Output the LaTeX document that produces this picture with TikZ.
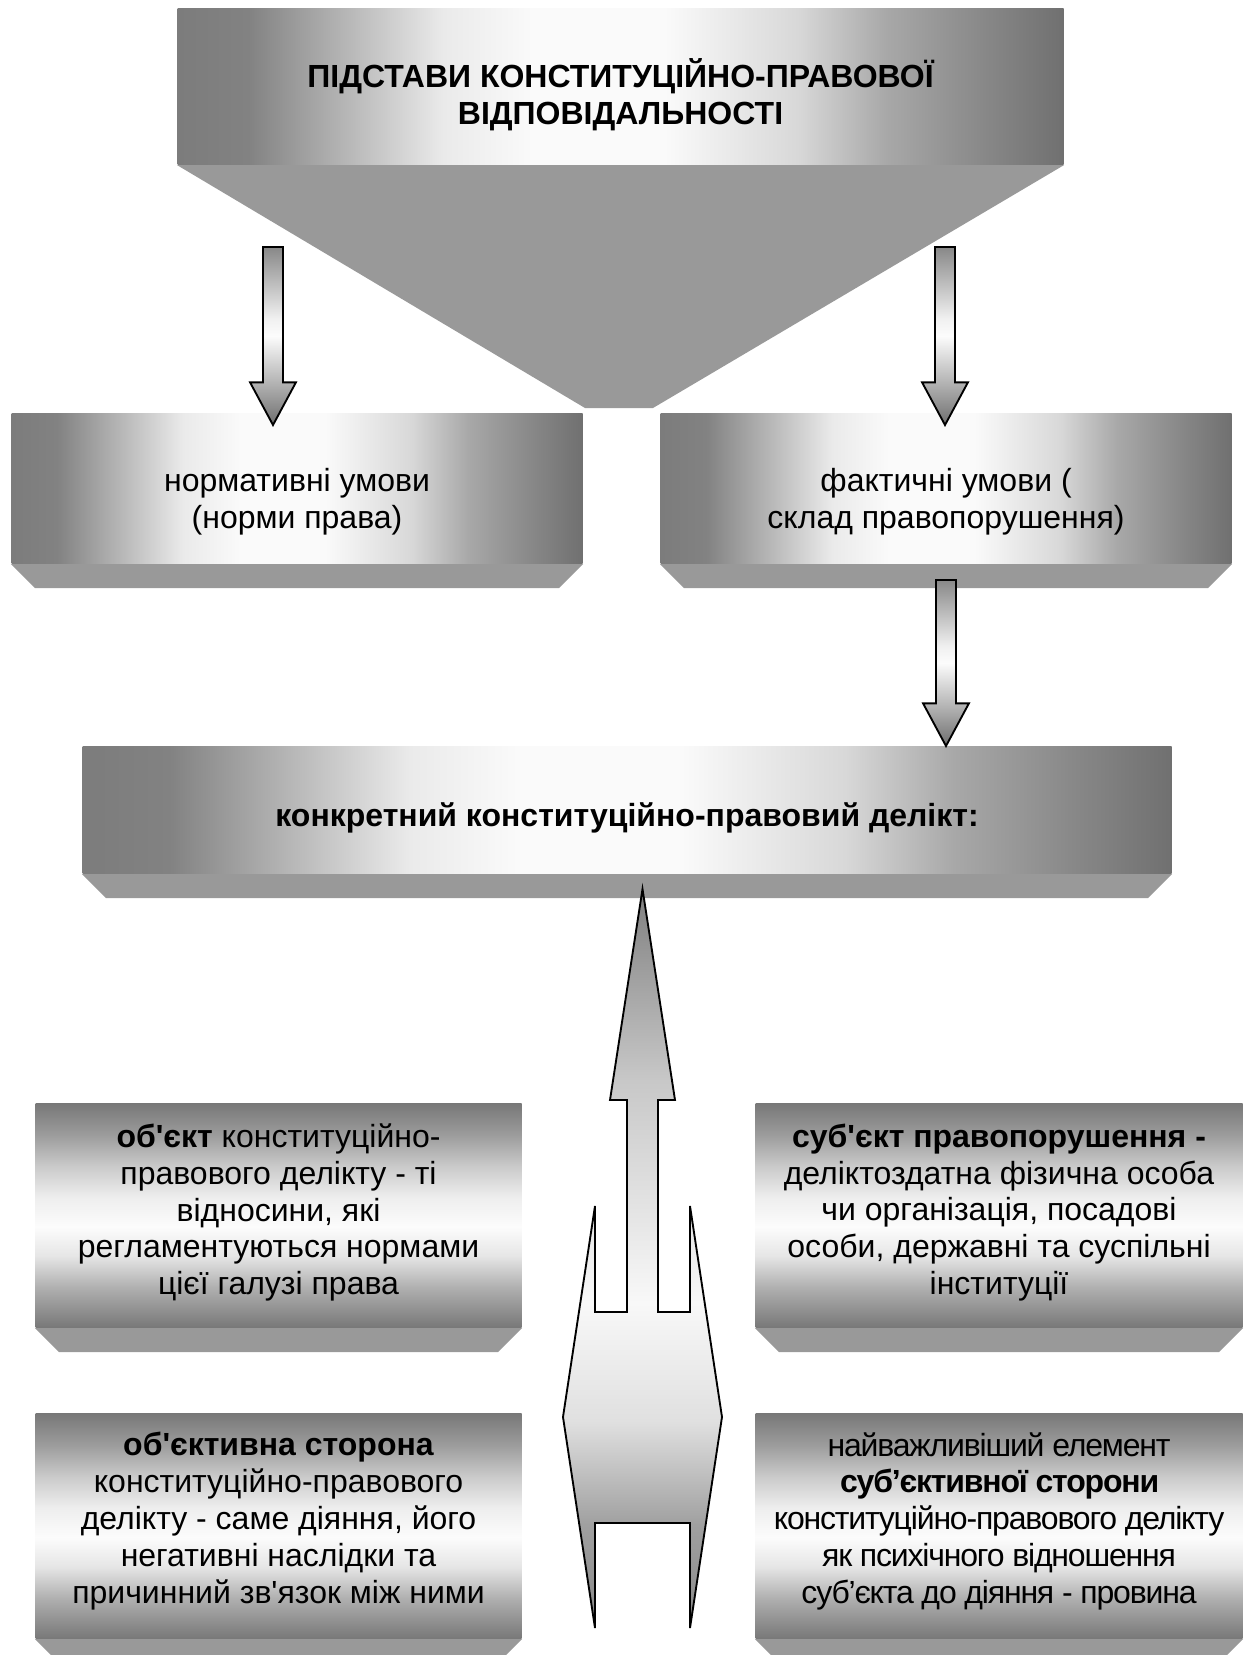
\documentclass[tikz,border=0pt]{standalone}
\usepackage{fontspec}
\setmainfont{Liberation Sans}[Ligatures=TeXOff]
\newfontfamily\tightfont{Liberation Sans}[Ligatures=TeXOff, LetterSpace=-3.7]
\usetikzlibrary{calc}

% Greys of the shadings
\definecolor{bevelgray}{HTML}{999999}
\definecolor{hA}{HTML}{7C7C7C}
\definecolor{hB}{HTML}{828282}
\definecolor{hC}{HTML}{A8A8A8}
\definecolor{hD}{HTML}{EAEAEA}
\definecolor{hE}{HTML}{FAFAFA}
\definecolor{hF}{HTML}{D8D8D8}
\definecolor{hG}{HTML}{888888}
\definecolor{hH}{HTML}{707070}
\definecolor{vA}{HTML}{787878}
\definecolor{vB}{HTML}{B0B0B0}
\definecolor{vC}{HTML}{E6E6E6}
\definecolor{vD}{HTML}{FCFCFC}
\definecolor{vE}{HTML}{EEEEEE}
\definecolor{vF}{HTML}{CACACA}
\definecolor{vG}{HTML}{9C9C9C}
\definecolor{aA}{HTML}{6E6E6E}
\definecolor{aB}{HTML}{B4B4B4}
\definecolor{aC}{HTML}{FCFCFC}
\definecolor{aD}{HTML}{F0F0F0}
\definecolor{aE}{HTML}{888888}
\definecolor{bA}{HTML}{888888}
\definecolor{bB}{HTML}{A0A0A0}
\definecolor{bC}{HTML}{E0E0E0}
\definecolor{bD}{HTML}{F8F8F8}
\definecolor{bE}{HTML}{C8C8C8}
\definecolor{bF}{HTML}{7F7F7F}

% dark - white - dark, left to right
\pgfdeclarehorizontalshading{hbar}{100bp}{color(0bp)=(hA); color(25bp)=(hA); color(29bp)=(hB);
  color(33bp)=(hC); color(40bp)=(hD); color(45bp)=(hE); color(52.5bp)=(hE); color(60bp)=(hF);
  color(65bp)=(hC); color(70.5bp)=(hG); color(75bp)=(hH); color(100bp)=(hH)}
% dark - white - dark, bottom to top
\pgfdeclareverticalshading{vbar}{100bp}{color(0bp)=(vA); color(25bp)=(vA); color(34bp)=(vB);
  color(41bp)=(vC); color(47.5bp)=(vD); color(54bp)=(vE); color(61bp)=(vF); color(68bp)=(vG);
  color(75bp)=(vA); color(100bp)=(vA)}
\pgfdeclareverticalshading{arrowbar}{100bp}{color(0bp)=(aA); color(25bp)=(aA); color(37bp)=(aB);
  color(50bp)=(aC); color(55bp)=(aD); color(75bp)=(aE); color(100bp)=(aE)}
\pgfdeclareverticalshading{bigbar}{100bp}{color(0bp)=(bA); color(25bp)=(bA); color(32bp)=(bB);
  color(39bp)=(bC); color(47bp)=(bD); color(62bp)=(bE); color(75bp)=(bF); color(100bp)=(bF)}

\begin{document}
\begin{tikzpicture}[x=0.375pt, y=-0.375pt]

    % Set the canvas size
    \useasboundingbox (0,0) rectangle (1248,1655);

    % Define styles
    \tikzset{
        dims/.style 2 args={minimum width=#1*0.375pt, minimum height=#2*0.375pt},
        hbox/.style={shade, shading=hbar, anchor=north west, inner sep=0pt},
        vbox/.style={shade, shading=vbar, anchor=north west, inner sep=0pt},
        boxtext/.style={inner sep=0pt, align=center, font=\fontsize{12}{13.8}\selectfont},
        tighttext/.style={boxtext, font=\tightfont\fontsize{12}{13.8}\selectfont},
        title/.style={boxtext, font=\fontsize{12}{13.8}\selectfont\bfseries},
        bevel/.style={fill=bevelgray},
        smallarrow/.style={shade, shading=arrowbar, draw=black, line width=0.7pt},
        bigarrow/.style={shade, shading=bigbar, draw=black, line width=0.7pt},
        downarrow/.style={to path={let \p1=(\tikztostart), \p2=(\tikztotarget) in
            (\x1-3.75pt,\y1) -- (\x1+3.75pt,\y1) -- (\x1+3.75pt,\y2+16pt) -- (\x1+8.6pt,\y2+16pt)
            -- (\x1,\y2) -- (\x1-8.6pt,\y2+16pt) -- (\x1-3.75pt,\y2+16pt) -- cycle}},
    }

    % Heading with its funnel
    \node[hbox, dims={886}{156}] (basis) at (177,8) {};
    \fill[bevel] (basis.south west) -- (basis.south east) -- (653,408) -- (585,408) -- cycle;
    \node[title] (basistext) at ([shift={(0,8)}]basis.center)
        {ПІДСТАВИ КОНСТИТУЦІЙНО-ПРАВОВОЇ\\ВІДПОВІДАЛЬНОСТІ};

    % Two kinds of conditions
    \node[hbox, dims={571}{150}] (norm) at (11,413) {};
    \node[hbox, dims={571}{150}] (fact) at (660,413) {};

    % The delict
    \node[hbox, dims={1089}{127}] (delict) at (82,746) {};

    % Elements of the delict
    \node[vbox, dims={486}{224}] (object) at (35,1103) {};
    \node[vbox, dims={487}{224}] (subject) at (755,1103) {};
    \node[vbox, dims={486}{225}] (objside) at (35,1413) {};
    \node[vbox, dims={487}{225}] (subjside) at (755,1413) {};

    % Bevels under the boxes
    \foreach \n in {norm,fact,delict,object,subject} {
        \fill[bevel] (\n.south west) -- (\n.south east) -- ++(-24,24) -- ([shift={(24,24)}]\n.south west) -- cycle;
    }
    \foreach \n in {objside,subjside} {
        \fill[bevel] (\n.south west) -- (\n.south east) -- ++(-17,17) -- ([shift={(17,17)}]\n.south west) -- cycle;
    }

    % Texts of the boxes
    \node[boxtext] (normtext) at ([shift={(0,13)}]norm.center) {нормативні умови\\(норми права)};
    \node[boxtext] (facttext) at ([shift={(0,13)}]fact.center) {фактичні умови (\\склад правопорушення)};
    \node[title] (delicttext) at ([shift={(0,8)}]delict.center) {конкретний конституційно-правовий делікт:};
    \node[boxtext] (objecttext) at ([shift={(0,-3)}]object.center)
        {\textbf{об'єкт} конституційно-\\правового делікту - ті\\відносини, які\\регламентуються нормами\\цієї галузі права};
    \node[boxtext] (subjecttext) at ([shift={(0,-3)}]subject.center)
        {\textbf{суб'єкт правопорушення -}\\деліктоздатна фізична особа\\чи організація, посадові\\особи, державні та суспільні\\інституції};
    \node[boxtext] (objsidetext) at ([shift={(0,-5)}]objside.center)
        {\textbf{об'єктивна сторона}\\конституційно-правового\\делікту - саме діяння, його\\негативні наслідки та\\причинний зв'язок між ними};
    \node[tighttext] (subjsidetext) at ([shift={(0,-5)}]subjside.center)
        {найважливіший елемент\\\textbf{суб’єктивної сторони}\\конституційно-правового делікту\\як психічного відношення\\суб’єкта до діяння - провина};

    % Small block arrows
    \coordinate (a1top) at (273,247);
    \coordinate (a1tip) at (273,425);
    \coordinate (a2top) at (945,247);
    \coordinate (a2tip) at (945,425);
    \coordinate (a3top) at (946,580);
    \draw[smallarrow] (a1top) to[downarrow] (a1tip);
    \draw[smallarrow] (a2top) to[downarrow] (a2tip);
    \draw[smallarrow] (a3top) to[downarrow] (a3top |- delict.north);

    % Big forked arrow up to the delict
    \draw[bigarrow, line join=miter] (642.5,889) -- (675,1100) -- (658,1100) -- (658,1312) -- (690,1312)
        -- (690,1206) -- (722,1417) -- (690,1628) -- (690,1523) -- (595,1523) -- (595,1628)
        -- (563,1417) -- (595,1206) -- (595,1312) -- (627,1312) -- (627,1100) -- (610,1100) -- cycle;

\end{tikzpicture}
\end{document}
